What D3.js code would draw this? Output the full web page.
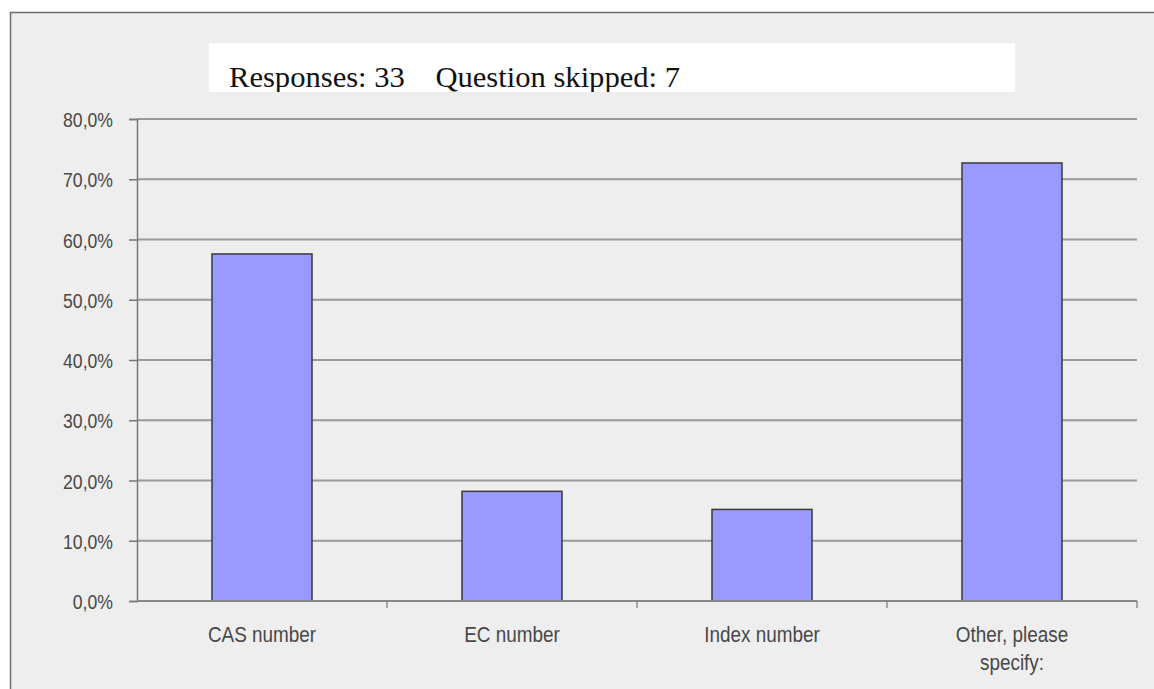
<!DOCTYPE html>
<html>
<head>
<meta charset="utf-8">
<script src="https://cdn.jsdelivr.net/npm/d3@7"></script>
<style>
  html, body { margin: 0; padding: 0; background: #ffffff; }
  svg { display: block; }
</style>
</head>
<body>
<svg id="chart" width="1154" height="689"></svg>
<script>
const categories = ["CAS number", "EC number", "Index number", "Other, please\nspecify:"];
const values = [57.6, 18.2, 15.2, 72.7];
const yTicks = [0, 10, 20, 30, 40, 50, 60, 70, 80];
const yTickLabels = ["0,0%", "10,0%", "20,0%", "30,0%", "40,0%", "50,0%", "60,0%", "70,0%", "80,0%"];
const titleText = "Responses: 33    Question skipped: 7";

const svg = d3.select("#chart");
const W = 1154, H = 689;

// frame
svg.append("rect").attr("x", 10.5).attr("y", 12.5).attr("width", W - 9).attr("height", H)
  .attr("fill", "#eeeeee").attr("stroke", "#6e6e6e").attr("stroke-width", 1.5);

const plot = { left: 137, right: 1137, top: 119, bottom: 601 };
const x = d3.scaleBand().domain(categories).range([plot.left, plot.right]).paddingInner(0.6).paddingOuter(0.3);
const y = d3.scaleLinear().domain([0, 80]).range([plot.bottom, plot.top]);

// gridlines
svg.append("g").selectAll("line").data(yTicks.filter(d => d > 0)).join("line")
  .attr("x1", plot.left).attr("x2", plot.right)
  .attr("y1", d => y(d)).attr("y2", d => y(d))
  .attr("stroke", "#9a9a9a").attr("stroke-width", 2);

// y axis
const yAxis = d3.axisLeft(y).tickValues(yTicks).tickSize(8).tickPadding(16)
  .tickFormat((d, i) => yTickLabels[i]);
const gy = svg.append("g").attr("transform", `translate(${plot.left},0)`).call(yAxis);
gy.select(".domain").attr("stroke", "#777").attr("stroke-width", 1.5);
gy.selectAll(".tick line").attr("stroke", "#777").attr("stroke-width", 1.5);
gy.selectAll(".tick text").attr("fill", "#484848")
  .attr("x", null).attr("dy", "0.36em")
  .attr("transform", "translate(-24,0) scale(0.84,1)")
  .style("font-family", "Liberation Sans, Arial, sans-serif").style("font-size", "21px");

// bars
svg.append("g").selectAll("rect").data(values).join("rect")
  .attr("x", (d, i) => x(categories[i]))
  .attr("width", x.bandwidth())
  .attr("y", d => y(d))
  .attr("height", d => y(0) - y(d))
  .attr("fill", "#9999ff").attr("stroke", "#3a3a3a").attr("stroke-width", 1.5);

// x axis
const xb = d3.scaleBand().domain(categories).range([plot.left, plot.right]);
const gx = svg.append("g").attr("transform", `translate(0,${plot.bottom})`);
gx.append("line").attr("x1", plot.left).attr("x2", plot.right).attr("y1", 0).attr("y2", 0)
  .attr("stroke", "#888").attr("stroke-width", 2);
gx.selectAll("line.t").data(categories).join("line").attr("class", "t")
  .attr("x1", d => xb(d) + xb.bandwidth()).attr("x2", d => xb(d) + xb.bandwidth())
  .attr("y1", 0).attr("y2", 7).attr("stroke", "#777").attr("stroke-width", 1.2);
gx.selectAll("text").data(categories).join("text")
  .attr("transform", d => `translate(${xb(d) + xb.bandwidth() / 2},41) scale(0.86,1)`)
  .attr("text-anchor", "middle")
  .attr("fill", "#484848")
  .style("font-family", "Liberation Sans, Arial, sans-serif").style("font-size", "22px")
  .each(function(d) {
    const lines = d.split("\n");
    d3.select(this).selectAll("tspan").data(lines).join("tspan")
      .attr("x", 0)
      .attr("dy", (l, i) => i === 0 ? 0 : 28)
      .text(l => l);
  });

// title box
const clip = svg.append("defs").append("clipPath").attr("id", "tclip");
clip.append("rect").attr("x", 209).attr("y", 43).attr("width", 806).attr("height", 49);
svg.append("rect").attr("x", 209).attr("y", 43).attr("width", 806).attr("height", 49).attr("fill", "#ffffff");
svg.append("text").attr("clip-path", "url(#tclip)")
  .attr("x", 229).attr("y", 87)
  .attr("fill", "#111")
  .attr("textLength", 451).attr("lengthAdjust", "spacingAndGlyphs")
  .style("font-family", "Liberation Serif, serif").style("font-size", "30px")
  .attr("xml:space", "preserve")
  .style("white-space", "pre")
  .text(titleText);
</script>
</body>
</html>
